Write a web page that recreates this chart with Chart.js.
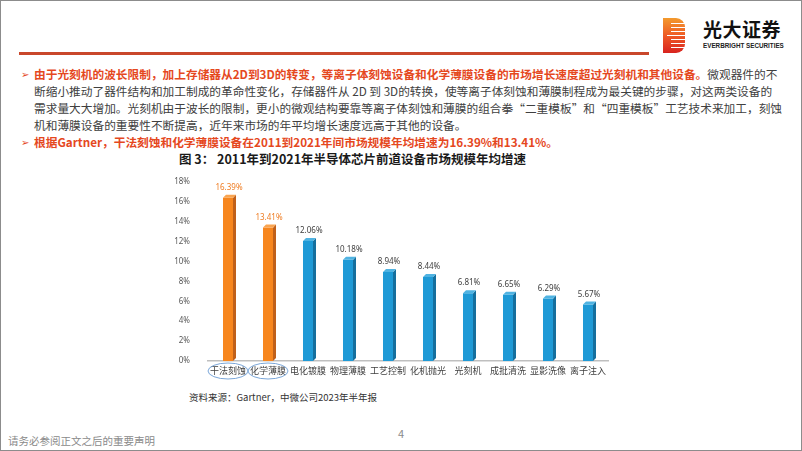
<!DOCTYPE html>
<html lang="zh">
<head>
<meta charset="UTF-8" />
<title>光大证券 - 半导体前道设备市场规模年均增速</title>
<script src="https://cdn.jsdelivr.net/npm/chart.js"></script>
<style>
  html, body { margin: 0; padding: 0; background: #fff; }
  body {
    width: 802px; height: 451px; position: relative; overflow: hidden;
    font-family: "Noto Sans CJK SC", "Noto Sans", sans-serif;
    box-sizing: border-box; border: 1px solid #8c8c8c;
  }
  .rule { position: absolute; left: 18px; top: 51px; width: 630px; height: 3px; background: #c9472b; }
  .logo-icon {
    position: absolute; left: 662px; top: 17px; width: 22px; height: 35px;
    background: linear-gradient(180deg, #f39a2d 0%, #ee5a24 50%, #d8231f 100%);
    border-radius: 0 9px 9px 0;
  }
  .logo-icon i {
    position: absolute; left: 8px; right: 0; height: 1px; background: #fff;
  }
  .logo-cn { position: absolute; left: 702px; top: 14px; font-size: 19px; font-weight: 700; color: #111; letter-spacing: 0.5px; }
  .logo-en { position: absolute; left: 702px; top: 41px; font-size: 6.3px; font-weight: 700; color: #222; font-family: "Liberation Sans", sans-serif; }
  .text { position: absolute; left: 20px; top: 64px; font-size: 11.7px; line-height: 17px; color: #404040; }
  .text div { white-space: nowrap; padding-left: 13px; position: relative; }
  .text .b::before { content: "➢"; position: absolute; left: 0; color: #e5481e; font-size: 10px; }
  .hl { color: #e5481e; font-weight: 700; }
  .title { position: absolute; left: 178px; top: 148px; font-size: 12.5px; font-weight: 700; color: #1a1a1a; white-space: nowrap; }
  .chart-box { position: absolute; left: 170px; top: 166px; width: 445px; height: 216px; }
  .source { position: absolute; left: 188px; top: 389px; font-size: 9.5px; color: #333; }
  .footer { position: absolute; left: 7px; top: 432px; font-size: 10.5px; color: #8a8a8a; }
  .page { position: absolute; left: 397px; top: 424px; font-size: 11px; color: #8a8a8a; }
</style>
</head>
<body>
  <div class="rule"></div>
  <div class="logo-icon">
    <i style="top:5px"></i><i style="top:9px"></i><i style="top:13px"></i><i style="top:17px;left:4px"></i>
    <i style="top:21px"></i><i style="top:25px"></i><i style="top:29px"></i>
  </div>
  <div class="logo-cn">光大证券</div>
  <div class="logo-en">EVERBRIGHT SECURITIES</div>

  <div class="text">
    <div class="b"><span class="hl">由于光刻机的波长限制，加上存储器从2D到3D的转变，等离子体刻蚀设备和化学薄膜设备的市场增长速度超过光刻机和其他设备。</span>微观器件的不</div>
    <div>断缩小推动了器件结构和加工制成的革命性变化，存储器件从 2D 到 3D的转换，使等离子体刻蚀和薄膜制程成为最关键的步骤，对这两类设备的</div>
    <div>需求量大大增加。光刻机由于波长的限制，更小的微观结构要靠等离子体刻蚀和薄膜的组合拳“二重模板”和“四重模板”工艺技术来加工，刻蚀</div>
    <div>机和薄膜设备的重要性不断提高，近年来市场的年平均增长速度远高于其他的设备。</div>
    <div class="b"><span class="hl">根据Gartner，干法刻蚀和化学薄膜设备在2011到2021年间市场规模年均增速为16.39%和13.41%。</span></div>
  </div>

  <div class="title">图 3：&nbsp;2011年到2021年半导体芯片前道设备市场规模年均增速</div>
  <div class="chart-box"><canvas id="growthChart"></canvas></div>
  <div class="source">资料来源：Gartner，中微公司2023年半年报</div>
  <div class="footer">请务必参阅正文之后的重要声明</div>
  <div class="page">4</div>

<script>
  // data
  const categories = ['干法刻蚀', '化学薄膜', '电化镀膜', '物理薄膜', '工艺控制', '化机抛光', '光刻机', '成批清洗', '显影洗像', '离子注入'];
  const growthRates = [16.39, 13.41, 12.06, 10.18, 8.94, 8.44, 6.81, 6.65, 6.29, 5.67];
  const highlighted = [true, true, false, false, false, false, false, false, false, false];
  const yTicks = [0, 2, 4, 6, 8, 10, 12, 14, 16, 18];

  const ORANGE = '#f7861e', ORANGE_SIDE = '#c0601a', ORANGE_TOP = '#f9a450';
  const BLUE = '#1f9ad6', BLUE_SIDE = '#156f9e', BLUE_TOP = '#4fb3e2';

  // fake 3D: side + top face, value labels, ellipses around highlighted labels
  const barExtras = {
    id: 'barExtras',
    afterDatasetsDraw(chart) {
      const ctx = chart.ctx;
      const meta = chart.getDatasetMeta(0);
      const d = 3;
      meta.data.forEach((bar, i) => {
        const hl = highlighted[i];
        const l = bar.x - bar.width / 2, r = bar.x + bar.width / 2;
        ctx.save();
        ctx.fillStyle = hl ? ORANGE_SIDE : BLUE_SIDE;
        ctx.beginPath();
        ctx.moveTo(r, bar.y); ctx.lineTo(r + d, bar.y - d);
        ctx.lineTo(r + d, bar.base - d); ctx.lineTo(r, bar.base);
        ctx.closePath(); ctx.fill();
        ctx.fillStyle = hl ? ORANGE_TOP : BLUE_TOP;
        ctx.beginPath();
        ctx.moveTo(l, bar.y); ctx.lineTo(l + d, bar.y - d);
        ctx.lineTo(r + d, bar.y - d); ctx.lineTo(r, bar.y);
        ctx.closePath(); ctx.fill();

        ctx.font = '8px "Noto Sans", sans-serif';
        ctx.fillStyle = hl ? '#ef7d23' : '#404040';
        ctx.textAlign = 'center';
        ctx.textBaseline = 'bottom';
        ctx.fillText(growthRates[i].toFixed(2) + '%', bar.x + 1, bar.y - 6);
        ctx.restore();
      });

      const xs = chart.scales.x;
      ctx.save();
      ctx.strokeStyle = '#7aa6d8';
      ctx.lineWidth = 1;
      highlighted.forEach((h, i) => {
        if (!h) return;
        const cx = xs.getPixelForTick(i);
        ctx.beginPath();
        ctx.ellipse(cx, xs.top + 10, 20, 8, 0, 0, Math.PI * 2);
        ctx.stroke();
      });
      ctx.restore();
    }
  };

  new Chart(document.getElementById('growthChart'), {
    type: 'bar',
    data: {
      labels: categories,
      datasets: [{
        data: growthRates,
        backgroundColor: highlighted.map(h => h ? ORANGE : BLUE),
        barPercentage: 0.25,
        categoryPercentage: 1
      }]
    },
    options: {
      responsive: true,
      maintainAspectRatio: false,
      animation: false,
      layout: { padding: { top: 8, right: 8, left: 0, bottom: 0 } },
      plugins: { legend: { display: false }, tooltip: { enabled: false } },
      scales: {
        x: {
          grid: { display: false, drawTicks: false },
          border: { color: '#bfbfbf', width: 1.5 },
          ticks: { color: '#404040', font: { size: 9, family: '"Noto Sans CJK SC"' }, padding: 4, maxRotation: 0, autoSkip: false },
          afterFit(s) { s.height = 22; }
        },
        y: {
          min: 0, max: 18,
          afterBuildTicks(s) { s.ticks = yTicks.map(v => ({ value: v })); },
          grid: { display: false },
          border: { display: false },
          ticks: { color: '#595959', font: { size: 8, family: '"Noto Sans"' }, padding: 10, callback: v => v + '%' },
          afterFit(s) { s.width = 37; }
        }
      }
    },
    plugins: [barExtras]
  });
</script>
</body>
</html>
